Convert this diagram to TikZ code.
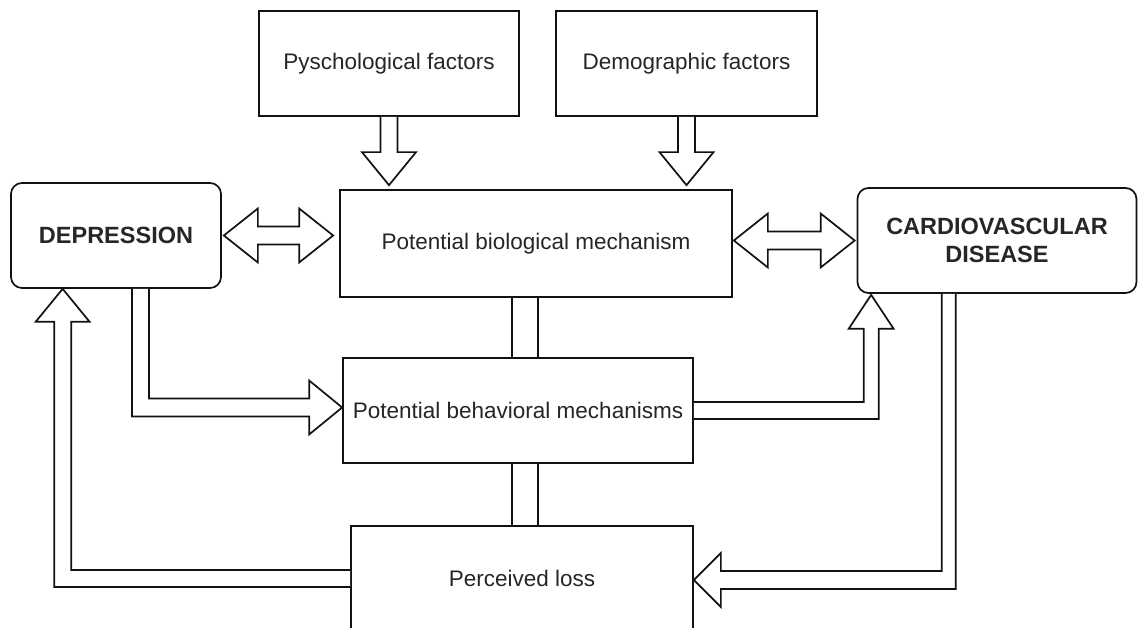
\documentclass[tikz,border=0pt]{standalone}
\usepackage{fontspec}
\setmainfont{Liberation Sans}
\usetikzlibrary{calc}

\definecolor{ink}{HTML}{111111}
\definecolor{txt}{HTML}{262626}

\tikzset{
  box/.style={draw=ink, line width=1.7pt, fill=white, rectangle, inner sep=0pt,
    text=txt, font=\fontsize{22.5}{27}\selectfont, align=center},
  roundbox/.style={box, rounded corners=11pt, font=\fontsize{23.5}{28}\bfseries\selectfont},
  blk/.style={draw=ink, line width=1.7pt, fill=white, line join=miter},
  ln/.style={draw=ink, line width=1.7pt},
}

% vertical block arrow pointing down, from #1 to the tip #2
\newcommand\blkdown[2]{%
  \draw[blk] ($(#1)+(-8.5,0)$) -- ($(#2)+(-8.5,-33)$) -- ($(#2)+(-27,-33)$) -- (#2)
    -- ($(#2)+(27,-33)$) -- ($(#2)+(8.5,-33)$) -- ($(#1)+(8.5,0)$);}

% horizontal double-headed block arrow between the tips #1 (left) and #2 (right)
\newcommand\blkboth[2]{%
  \draw[blk] (#1) -- ($(#1)+(34,-27)$) -- ($(#1)+(34,-9)$) -- ($(#2)+(-34,-9)$)
    -- ($(#2)+(-34,-27)$) -- (#2) -- ($(#2)+(-34,27)$) -- ($(#2)+(-34,9)$)
    -- ($(#1)+(34,9)$) -- ($(#1)+(34,27)$) -- cycle;}

\begin{document}
\begin{tikzpicture}[x=1pt, y=-1pt]
\useasboundingbox (0,0) rectangle (1138,628);

% boxes
\node[box, minimum width=260pt, minimum height=105pt] (psy) at (389,63.5) {Pyschological factors};
\node[box, minimum width=261pt, minimum height=105pt] (dem) at (686.5,63.5) {Demographic factors};
\node[roundbox, minimum width=210pt, minimum height=105pt] (dep) at (116,235.5) {DEPRESSION};
\node[box, minimum width=392pt, minimum height=107pt] (bio) at (536,243.5) {Potential biological mechanism};
\node[roundbox, minimum width=279pt, minimum height=105pt] (cvd) at (997,240.5) {CARDIOVASCULAR\\DISEASE};
\node[box, minimum width=350pt, minimum height=105pt] (beh) at (518,410.5) {Potential behavioral mechanisms};
\node[box, minimum width=342pt, minimum height=105pt] (per) at (522,578.5) {Perceived loss};

% factors feeding the biological mechanism
\coordinate (psyTip) at ($(psy.south |- bio.north)+(0,-4)$);
\blkdown{psy.south}{psyTip}
\coordinate (demTip) at ($(dem.south |- bio.north)+(0,-4)$);
\blkdown{dem.south}{demTip}

% two-way links with the biological mechanism
\coordinate (dl) at ($(dep.east)+(2,0)$);
\coordinate (dr) at ($(dep.east -| bio.west)+(-6,0)$);
\blkboth{dl}{dr}
\coordinate (cl) at ($(cvd.west -| bio.east)+(1,0)$);
\coordinate (cr) at ($(cvd.west)+(-2,0)$);
\blkboth{cl}{cr}

% plain double lines down the middle column
\coordinate (m1) at ($(bio.south)+(-11,0)$);
\draw[ln] ($(m1)+(-13,0)$) -- ($(m1 |- beh.north)+(-13,0)$);
\draw[ln] ($(m1)+(13,0)$) -- ($(m1 |- beh.north)+(13,0)$);
\coordinate (m2) at ($(m1 |- beh.south)$);
\draw[ln] ($(m2)+(-13,0)$) -- ($(m2 |- per.north)+(-13,0)$);
\draw[ln] ($(m2)+(13,0)$) -- ($(m2 |- per.north)+(13,0)$);

% depression -> behavioral mechanisms
\coordinate (s1) at ($(dep.south)+(24.5,0)$);
\coordinate (t1) at ($(beh.west)+(0,-3)$);
\draw[blk] ($(s1)+(-8.5,0)$) -- ($(s1 |- t1)+(-8.5,9)$) -- ($(t1)+(-33,9)$) -- ($(t1)+(-33,27)$)
  -- (t1) -- ($(t1)+(-33,-27)$) -- ($(t1)+(-33,-9)$) -- ($(s1 |- t1)+(8.5,-9)$) -- ($(s1)+(8.5,0)$);

% perceived loss -> depression
\coordinate (t2) at ($(dep.south west)+(52.5,0)$);
\coordinate (s2) at (per.west);
\draw[blk] ($(s2)+(0,-8.5)$) -- ($(t2 |- s2)+(8.5,-8.5)$) -- ($(t2)+(8.5,33)$) -- ($(t2)+(27,33)$)
  -- (t2) -- ($(t2)+(-27,33)$) -- ($(t2)+(-8.5,33)$) -- ($(t2 |- s2)+(-8.5,8.5)$) -- ($(s2)+(0,8.5)$);

% behavioral mechanisms -> cardiovascular disease
\coordinate (s3) at (beh.east);
\coordinate (t3) at ($(cvd.south west)+(14.5,1)$);
\draw[blk] ($(s3)+(0,-8.5)$) -- ($(t3 |- s3)+(-7.5,-8.5)$) -- ($(t3)+(-7.5,34)$) -- ($(t3)+(-22.5,34)$)
  -- (t3) -- ($(t3)+(22.5,34)$) -- ($(t3)+(7.5,34)$) -- ($(t3 |- s3)+(7.5,8.5)$) -- ($(s3)+(0,8.5)$);

% cardiovascular disease -> perceived loss
\coordinate (s4) at ($(cvd.south west)+(92,0)$);
\coordinate (t4) at ($(per.east)+(0,1.5)$);
\draw[blk] ($(s4)+(-7,0)$) -- ($(s4 |- t4)+(-7,-9)$) -- ($(t4)+(27,-9)$) -- ($(t4)+(27,-27)$)
  -- (t4) -- ($(t4)+(27,27)$) -- ($(t4)+(27,9)$) -- ($(s4 |- t4)+(7,9)$) -- ($(s4)+(7,0)$);
\end{tikzpicture}
\end{document}
